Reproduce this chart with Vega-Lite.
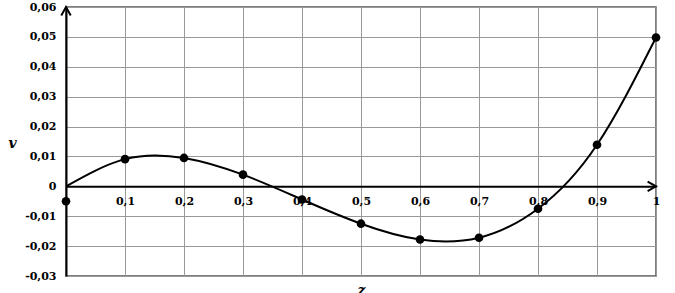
{
  "$schema": "https://vega.github.io/schema/vega-lite/v6.json",
  "width": 590,
  "height": 269,
  "autosize": "none",
  "padding": {"left": 66, "top": 7, "right": 19, "bottom": 17},
  "background": "white",
  "config": {
    "view": {"stroke": "#555555", "strokeWidth": 1.5},
    "font": "DejaVu Serif"
  },
  "datasets": {
    "curve": [
      {"z": 0, "v": 0},
      {"z": 0.1, "v": 0.0091},
      {"z": 0.2, "v": 0.0095},
      {"z": 0.3, "v": 0.0039},
      {"z": 0.4, "v": -0.0044},
      {"z": 0.5, "v": -0.0125},
      {"z": 0.6, "v": -0.0178},
      {"z": 0.7, "v": -0.0172},
      {"z": 0.8, "v": -0.0075},
      {"z": 0.9, "v": 0.0139},
      {"z": 1, "v": 0.0498}
    ],
    "dots": [
      {"z": 0, "v": -0.005},
      {"z": 0.1, "v": 0.0091},
      {"z": 0.2, "v": 0.0095},
      {"z": 0.3, "v": 0.0039},
      {"z": 0.4, "v": -0.0044},
      {"z": 0.5, "v": -0.0125},
      {"z": 0.6, "v": -0.0178},
      {"z": 0.7, "v": -0.0172},
      {"z": 0.8, "v": -0.0075},
      {"z": 0.9, "v": 0.0139},
      {"z": 1, "v": 0.0498}
    ],
    "arrows": [
      {"z": 0, "v": 0.06, "dir": "up"},
      {"z": 1, "v": 0, "dir": "right"}
    ]
  },
  "encoding": {
    "x": {
      "field": "z", "type": "quantitative",
      "scale": {"domain": [0, 1], "nice": false, "zero": false},
      "axis": {
        "title": "z", "titleY": 97, "titleBaseline": "top", "titleFont": "DejaVu Serif",
        "titleFontStyle": "italic", "titleFontWeight": "bold", "titleFontSize": 14, "titleColor": "black",
        "offset": -89.67,
        "values": [0, 0.1, 0.2, 0.3, 0.4, 0.5, 0.6, 0.7, 0.8, 0.9, 1],
        "labelExpr": "datum.value == 0 ? '' : replace(format(datum.value, '.1~f'), '.', ',')",
        "labelFont": "DejaVu Serif", "labelFontWeight": "bold", "labelFontSize": 11, "labelColor": "black",
        "labelPadding": 9, "labelOverlap": false, "labelFlush": false, "labelBound": false,
        "ticks": false, "domainColor": "black", "domainWidth": 2,
        "grid": true, "gridColor": "#999999", "gridWidth": 1, "gridOpacity": 1
      }
    },
    "y": {
      "field": "v", "type": "quantitative",
      "scale": {"domain": [-0.03, 0.06], "nice": false, "zero": false},
      "axis": {
        "title": "v", "titleAngle": 0, "titleX": -54, "titleY": 136, "titleAlign": "center",
        "titleBaseline": "middle", "titleFont": "DejaVu Serif", "titleFontStyle": "italic",
        "titleFontWeight": "bold", "titleFontSize": 14, "titleColor": "black",
        "values": [-0.03, -0.02, -0.01, 0, 0.01, 0.02, 0.03, 0.04, 0.05, 0.06],
        "labelExpr": "datum.value == 0 ? '0' : (datum.value < 0 ? '-' : '') + replace(format(abs(datum.value), '.2f'), '.', ',')",
        "labelFont": "DejaVu Serif", "labelFontWeight": "bold", "labelFontSize": 11, "labelColor": "black",
        "labelPadding": 10, "labelOverlap": false, "labelFlush": false, "labelBound": false,
        "ticks": false, "domainColor": "black", "domainWidth": 2,
        "grid": true, "gridColor": "#999999", "gridWidth": 1, "gridOpacity": 1
      }
    }
  },
  "layer": [
    {
      "data": {"name": "curve"},
      "mark": {"type": "line", "interpolate": "natural", "color": "black", "strokeWidth": 2}
    },
    {
      "data": {"name": "dots"},
      "mark": {"type": "point", "filled": true, "color": "black", "size": 75, "opacity": 1}
    },
    {
      "data": {"name": "arrows"},
      "mark": {"type": "point", "filled": false, "color": "black", "strokeWidth": 2, "size": 110, "opacity": 1},
      "encoding": {
        "shape": {
          "field": "dir", "type": "nominal", "legend": null,
          "scale": {"domain": ["up", "right"], "range": ["M-0.9,1.6L0,0L0.9,1.6", "M-1.6,-0.9L0,0L-1.6,0.9"]}
        }
      }
    }
  ]
}
